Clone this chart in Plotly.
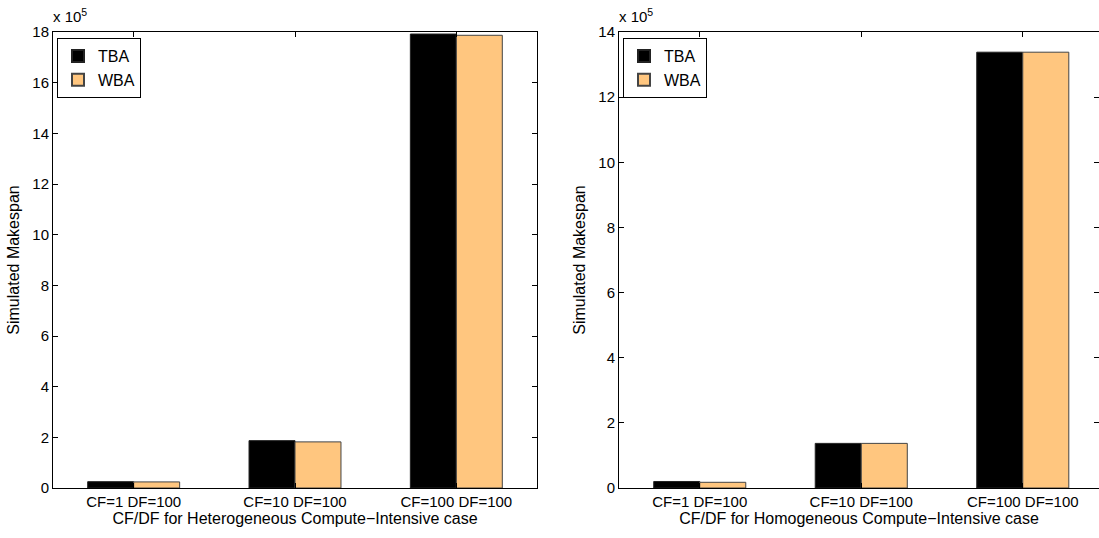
import plotly.graph_objects as go

categories = ["CF=1 DF=100", "CF=10 DF=100", "CF=100 DF=100"]
hetero_tba = [0.25e5, 1.87e5, 17.92e5]
hetero_wba = [0.24e5, 1.82e5, 17.87e5]
homo_tba = [0.20e5, 1.37e5, 13.38e5]
homo_wba = [0.175e5, 1.37e5, 13.38e5]
left_yticks = [0, 2, 4, 6, 8, 10, 12, 14, 16, 18]
right_yticks = [0, 2, 4, 6, 8, 10, 12, 14]
xtitles = ["CF/DF for Heterogeneous Compute\u2212Intensive case",
           "CF/DF for Homogeneous Compute\u2212Intensive case"]

FONT = "Liberation Sans, Arial, Helvetica, sans-serif"
BLACK = "#000000"
ORANGE = "#FFC67F"

fig = go.Figure()
xpos = [1, 2, 3]
for i, (tba, wba) in enumerate([(hetero_tba, hetero_wba), (homo_tba, homo_wba)]):
    xa = "x" if i == 0 else "x2"
    ya = "y" if i == 0 else "y2"
    lg = "legend" if i == 0 else "legend2"
    fig.add_trace(go.Bar(x=xpos, y=tba, name="TBA", marker=dict(color=BLACK, line=dict(color="#222", width=1)),
                         xaxis=xa, yaxis=ya, legend=lg))
    fig.add_trace(go.Bar(x=xpos, y=wba, name="WBA", marker=dict(color=ORANGE, line=dict(color="#444", width=1)),
                         xaxis=xa, yaxis=ya, legend=lg))

axcommon = dict(showline=True, linecolor="black", linewidth=1, mirror="allticks", ticks="inside",
                ticklen=5, tickcolor="black", showgrid=False, zeroline=False, automargin=False,
                tickfont=dict(family=FONT, size=15, color="black"))

fig.update_layout(
    width=1099, height=538, margin=dict(l=0, r=0, t=0, b=0, autoexpand=False),
    plot_bgcolor="white", paper_bgcolor="white",
    barmode="group", bargap=0.43, bargroupgap=0,
    font=dict(family=FONT, size=15, color="black"),
    xaxis=dict(domain=[53/1099, 537/1099], range=[0.5, 3.5], tickvals=xpos, ticktext=categories,
               title=dict(text=xtitles[0], font=dict(size=16), standoff=2), anchor="y", **axcommon),
    yaxis=dict(domain=[1-488/538, 1-32/538], range=[0, 18e5], tickvals=[v*1e5 for v in left_yticks],
               ticktext=[str(v) for v in left_yticks], anchor="x",
               title=dict(text="Simulated Makespan", font=dict(size=16), standoff=8), **axcommon),
    xaxis2=dict(domain=[619/1099, 1.0], range=[0.5, 3.472], tickvals=xpos, ticktext=categories,
                title=dict(text=xtitles[1], font=dict(size=16), standoff=2), anchor="y2", **axcommon),
    yaxis2=dict(domain=[1-488/538, 1-32/538], range=[0, 14e5], tickvals=[v*1e5 for v in right_yticks],
                ticktext=[str(v) for v in right_yticks], anchor="x2",
                title=dict(text="Simulated Makespan", font=dict(size=16), standoff=8), **axcommon),
    legend=dict(x=57/1099, y=1-38/538, xanchor="left", yanchor="top", bordercolor="black", borderwidth=1,
                bgcolor="white", font=dict(size=16), tracegroupgap=0, itemsizing="constant"),
    legend2=dict(x=623/1099, y=1-38/538, xanchor="left", yanchor="top", bordercolor="black", borderwidth=1,
                 bgcolor="white", font=dict(size=16), tracegroupgap=0, itemsizing="constant"),
    annotations=[
        dict(text="x 10<sup>5</sup>", x=51/1099, y=1-27/538, xref="paper", yref="paper",
             xanchor="left", yanchor="bottom", showarrow=False, font=dict(size=15)),
        dict(text="x 10<sup>5</sup>", x=617/1099, y=1-27/538, xref="paper", yref="paper",
             xanchor="left", yanchor="bottom", showarrow=False, font=dict(size=15)),
    ],
)

fig.write_html("out.html")
